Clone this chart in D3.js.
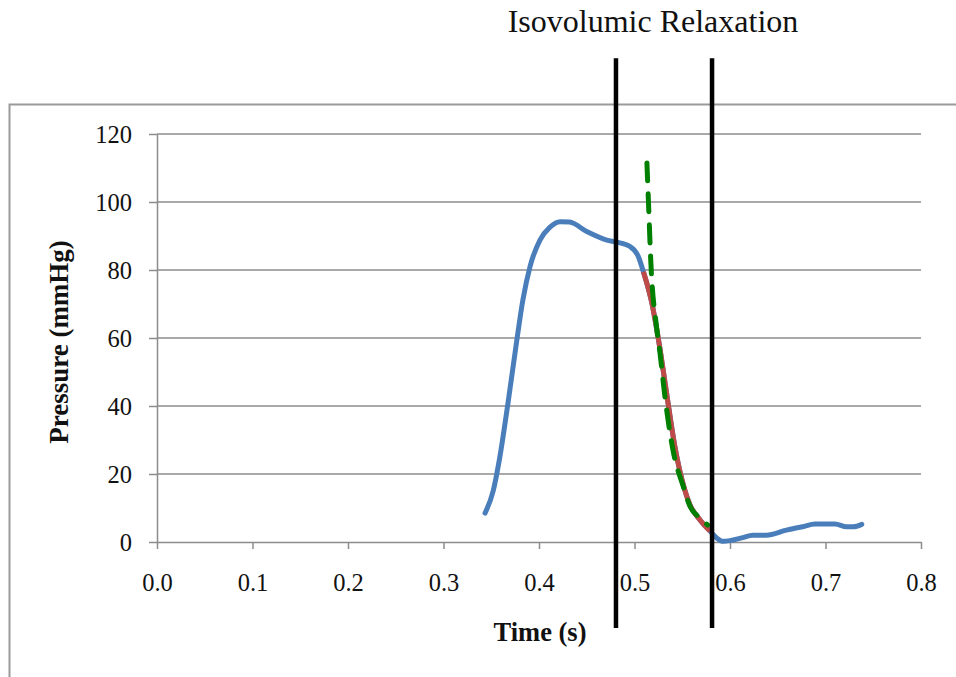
<!DOCTYPE html>
<html>
<head>
<meta charset="utf-8">
<script src="https://cdn.jsdelivr.net/npm/d3@7"></script>
<style>
  body { margin: 0; background: #fff; }
  svg text { font-family: "Liberation Serif", "Times New Roman", serif; }
</style>
</head>
<body>
<script>
// pressure trace (time s, mmHg)
var pressure = [
  [0.3435, 8.5], [0.3520, 15], [0.3590, 25], [0.3676, 41], [0.3766, 59],
  [0.3830, 71], [0.3906, 81], [0.4010, 88.8], [0.4115, 92.6], [0.4220, 94.2],
  [0.4320, 94.1], [0.4500, 91.3], [0.4710, 88.8], [0.4814, 88.2], [0.4953, 86.9],
  [0.5040, 84], [0.5093, 79.5], [0.5180, 70.5], [0.5260, 58], [0.5340, 43],
  [0.5420, 28.5], [0.5500, 18], [0.5580, 11], [0.5686, 6.5], [0.5791, 3.2],
  [0.5860, 1.2], [0.5930, 0.2], [0.6000, 0.4], [0.6120, 1.2], [0.6240, 2],
  [0.6380, 2], [0.6590, 3.5], [0.6760, 4.5], [0.6890, 5.3], [0.7100, 5.3],
  [0.7220, 4.5], [0.7290, 4.5], [0.7380, 5.2]
];
// relaxation segment
var relaxation = [
  [0.5093, 79.5], [0.5180, 70.5], [0.5260, 58], [0.5340, 43], [0.5420, 28.5],
  [0.5500, 18], [0.5580, 11], [0.5686, 6.5], [0.5791, 3.2]
];
// exponential fit
var fit = [
  [0.5130, 111.5], [0.5149, 98], [0.5170, 83], [0.5232, 63], [0.5267, 55.6],
  [0.5319, 42.7], [0.5406, 26.6], [0.5511, 16.3], [0.5580, 10.6], [0.5686, 7],
  [0.5767, 5]
];
// markers for isovolumic relaxation (time), span in mmHg
var markerTimes = [0.4806, 0.5812];
var markerSpan = [142.3, -25.3];

var xTicks = [0, 0.1, 0.2, 0.3, 0.4, 0.5, 0.6, 0.7, 0.8];
var yTicks = [0, 20, 40, 60, 80, 100, 120];

var SVG_WIDTH = 956, SVG_HEIGHT = 677;
var MARGIN = { LEFT: 157, RIGHT: 35, TOP: 134, BOTTOM: 135 };

var svg = d3.select("body").append("svg")
  .attr("width", SVG_WIDTH).attr("height", SVG_HEIGHT);

// outer frame
svg.append("rect")
  .attr("x", 9.5).attr("y", 104.5)
  .attr("width", 1000).attr("height", 700)
  .attr("fill", "none").attr("stroke", "#9a9a9a").attr("stroke-width", 2);

var x = d3.scaleLinear().domain([0, 0.8]).range([MARGIN.LEFT, SVG_WIDTH - MARGIN.RIGHT]);
var y = d3.scaleLinear().domain([0, 120]).range([SVG_HEIGHT - MARGIN.BOTTOM, MARGIN.TOP]);

// gridlines
svg.append("g").selectAll("line")
  .data(yTicks.slice(1))
  .enter().append("line")
  .attr("x1", x(0)).attr("x2", x(0.8))
  .attr("y1", function (d) { return y(d); })
  .attr("y2", function (d) { return y(d); })
  .attr("stroke", "#8c8c8c").attr("stroke-width", 1.5);

var axisBottom = d3.axisBottom(x).tickValues(xTicks)
  .tickFormat(d3.format(".1f")).tickSizeInner(7).tickSizeOuter(0).tickPadding(25);
var gx = svg.append("g").attr("transform", "translate(0," + y(0) + ")").call(axisBottom);

var axisLeft = d3.axisLeft(y).tickValues(yTicks)
  .tickSizeInner(8).tickSizeOuter(0).tickPadding(17);
var gy = svg.append("g").attr("transform", "translate(" + x(0) + ",0)").call(axisLeft);

[gx, gy].forEach(function (g) {
  g.selectAll("path, line").attr("stroke", "#8c8c8c").attr("stroke-width", 1.5);
  g.selectAll("text").attr("font-size", 24.5).attr("fill", "#111")
    .attr("font-family", "Liberation Serif");
});
gy.selectAll("text").attr("dy", "0.35em");

var line = d3.line()
  .x(function (d) { return x(d[0]); })
  .y(function (d) { return y(d[1]); })
  .curve(d3.curveMonotoneX);

svg.append("path").datum(pressure)
  .attr("d", line).attr("fill", "none")
  .attr("stroke", "#4a7ebb").attr("stroke-width", 5)
  .attr("stroke-linejoin", "round").attr("stroke-linecap", "round");

svg.append("path").datum(relaxation)
  .attr("d", line).attr("fill", "none")
  .attr("stroke", "#be4b48").attr("stroke-width", 5)
  .attr("stroke-linejoin", "round");

svg.append("path").datum(fit)
  .attr("d", line).attr("fill", "none")
  .attr("stroke", "#008000").attr("stroke-width", 5)
  .attr("stroke-dasharray", "18,13").attr("stroke-linecap", "round");

// vertical markers
svg.append("g").selectAll("line")
  .data(markerTimes)
  .enter().append("line")
  .attr("x1", function (d) { return x(d); })
  .attr("x2", function (d) { return x(d); })
  .attr("y1", y(markerSpan[0])).attr("y2", y(markerSpan[1]))
  .attr("stroke", "#000").attr("stroke-width", 4.5);

// titles
svg.append("text")
  .attr("x", 653).attr("y", 32)
  .attr("text-anchor", "middle").attr("font-size", 32).attr("fill", "#111")
  .text("Isovolumic Relaxation");

svg.append("text")
  .attr("x", 540).attr("y", 641)
  .attr("text-anchor", "middle").attr("font-size", 26.5).attr("font-weight", "bold")
  .attr("fill", "#111")
  .text("Time (s)");

svg.append("text")
  .attr("transform", "translate(68," + 342 + ") rotate(-90)")
  .attr("text-anchor", "middle").attr("font-size", 27).attr("font-weight", "bold")
  .attr("fill", "#111")
  .text("Pressure (mmHg)");
</script>
</body>
</html>
